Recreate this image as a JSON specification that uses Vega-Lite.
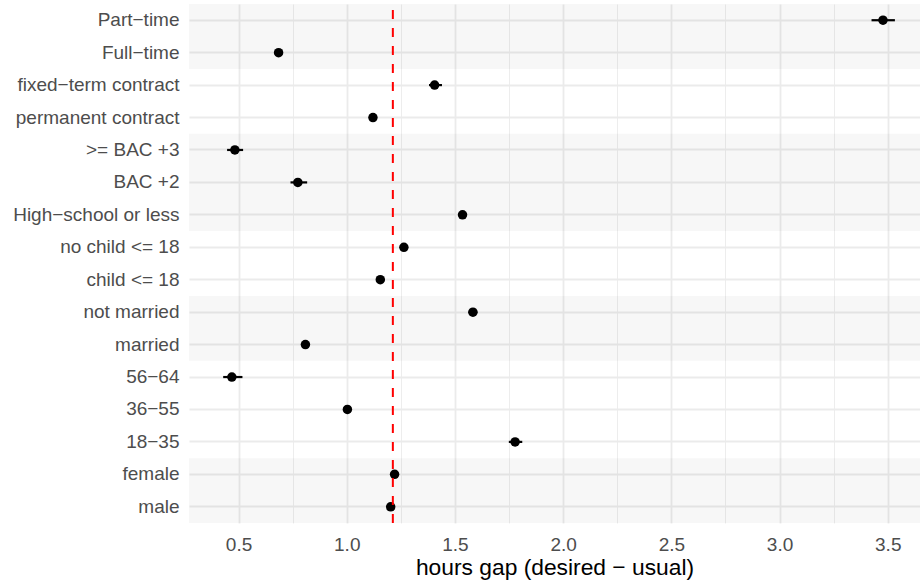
{
  "$schema": "https://vega.github.io/schema/vega-lite/v6.json",
  "width": 731,
  "height": 519,
  "autosize": {"type": "none"},
  "padding": {"left": 189, "top": 4, "right": 0, "bottom": 63},
  "background": "white",
  "config": {
    "view": {"stroke": null},
    "font": "Liberation Sans"
  },
  "datasets": {
    "gaps": [
      {"category": "Part−time", "est": 3.478, "lo": 3.425, "hi": 3.533, "shaded": true},
      {"category": "Full−time", "est": 0.685, "lo": 0.675, "hi": 0.695, "shaded": true},
      {"category": "fixed−term contract", "est": 1.406, "lo": 1.38, "hi": 1.44, "shaded": false},
      {"category": "permanent contract", "est": 1.121, "lo": 1.111, "hi": 1.131, "shaded": false},
      {"category": ">= BAC +3", "est": 0.483, "lo": 0.447, "hi": 0.521, "shaded": true},
      {"category": "BAC +2", "est": 0.774, "lo": 0.74, "hi": 0.817, "shaded": true},
      {"category": "High−school or less", "est": 1.535, "lo": 1.522, "hi": 1.548, "shaded": true},
      {"category": "no child <= 18", "est": 1.264, "lo": 1.252, "hi": 1.276, "shaded": false},
      {"category": "child <= 18", "est": 1.155, "lo": 1.143, "hi": 1.167, "shaded": false},
      {"category": "not married", "est": 1.583, "lo": 1.563, "hi": 1.603, "shaded": true},
      {"category": "married", "est": 0.809, "lo": 0.797, "hi": 0.821, "shaded": true},
      {"category": "56−64", "est": 0.469, "lo": 0.429, "hi": 0.518, "shaded": false},
      {"category": "36−55", "est": 1.003, "lo": 0.991, "hi": 1.015, "shaded": false},
      {"category": "18−35", "est": 1.778, "lo": 1.749, "hi": 1.811, "shaded": false},
      {"category": "female", "est": 1.221, "lo": 1.209, "hi": 1.233, "shaded": true},
      {"category": "male", "est": 1.203, "lo": 1.19, "hi": 1.216, "shaded": true}
    ],
    "overall": [{"mean": 1.213}]
  },
  "data": {"name": "gaps"},
  "encoding": {
    "y": {
      "field": "category",
      "type": "nominal",
      "sort": null,
      "scale": {
        "type": "band",
        "paddingInner": 0,
        "paddingOuter": 0,
        "domain": ["Part−time", "Full−time", "fixed−term contract", "permanent contract", ">= BAC +3", "BAC +2", "High−school or less", "no child <= 18", "child <= 18", "not married", "married", "56−64", "36−55", "18−35", "female", "male"]
      },
      "axis": {
        "title": null,
        "domain": false,
        "ticks": false,
        "tickSize": 0,
        "labelPadding": 10,
        "labelFontSize": 19,
        "labelColor": "#4d4d4d",
        "labelFont": "Liberation Sans",
        "grid": true,
        "bandPosition": 0.5,
        "gridColor": "#ebebeb",
        "gridWidth": 1.8,
        "zindex": 0
      }
    }
  },
  "layer": [
    {
      "transform": [{"filter": "datum.shaded"}],
      "mark": {"type": "rect", "fill": "#000000", "fillOpacity": 0.03, "stroke": null},
      "encoding": {
        "x": {"value": 0},
        "x2": {"value": "width"}
      }
    },
    {
      "mark": {"type": "rule", "color": "black", "strokeWidth": 2.2},
      "encoding": {
        "x": {
          "field": "lo",
          "type": "quantitative",
          "scale": {"domain": [0.271, 3.649], "nice": false, "zero": false},
          "axis": {
            "title": "hours gap (desired − usual)",
            "titleFont": "Liberation Sans",
            "titleFontSize": 22.8,
            "titleFontWeight": "normal",
            "titleColor": "#000000",
            "titlePadding": 2,
            "domain": false,
            "ticks": false,
            "tickSize": 0,
            "labelPadding": 12,
            "labelFontSize": 19,
            "labelColor": "#4d4d4d",
            "labelFont": "Liberation Sans",
            "values": [0.5, 0.75, 1, 1.25, 1.5, 1.75, 2, 2.25, 2.5, 2.75, 3, 3.25, 3.5],
            "labelExpr": "datum.value % 0.5 === 0 ? format(datum.value, '.1f') : ''",
            "grid": true,
            "gridColor": "#ebebeb",
            "gridWidth": {"expr": "datum.value % 0.5 === 0 ? 1.8 : 0.9"},
            "zindex": 0
          }
        },
        "x2": {"field": "hi"}
      }
    },
    {
      "mark": {"type": "point", "filled": true, "color": "black", "opacity": 1, "size": 90},
      "encoding": {
        "x": {"field": "est", "type": "quantitative"}
      }
    },
    {
      "data": {"name": "overall"},
      "mark": {"type": "rule", "color": "#ff0000", "strokeWidth": 2, "strokeDash": [9, 9], "strokeDashOffset": -6},
      "encoding": {
        "x": {"field": "mean", "type": "quantitative"},
        "y": {"value": 0},
        "y2": {"value": "height"}
      }
    }
  ]
}
